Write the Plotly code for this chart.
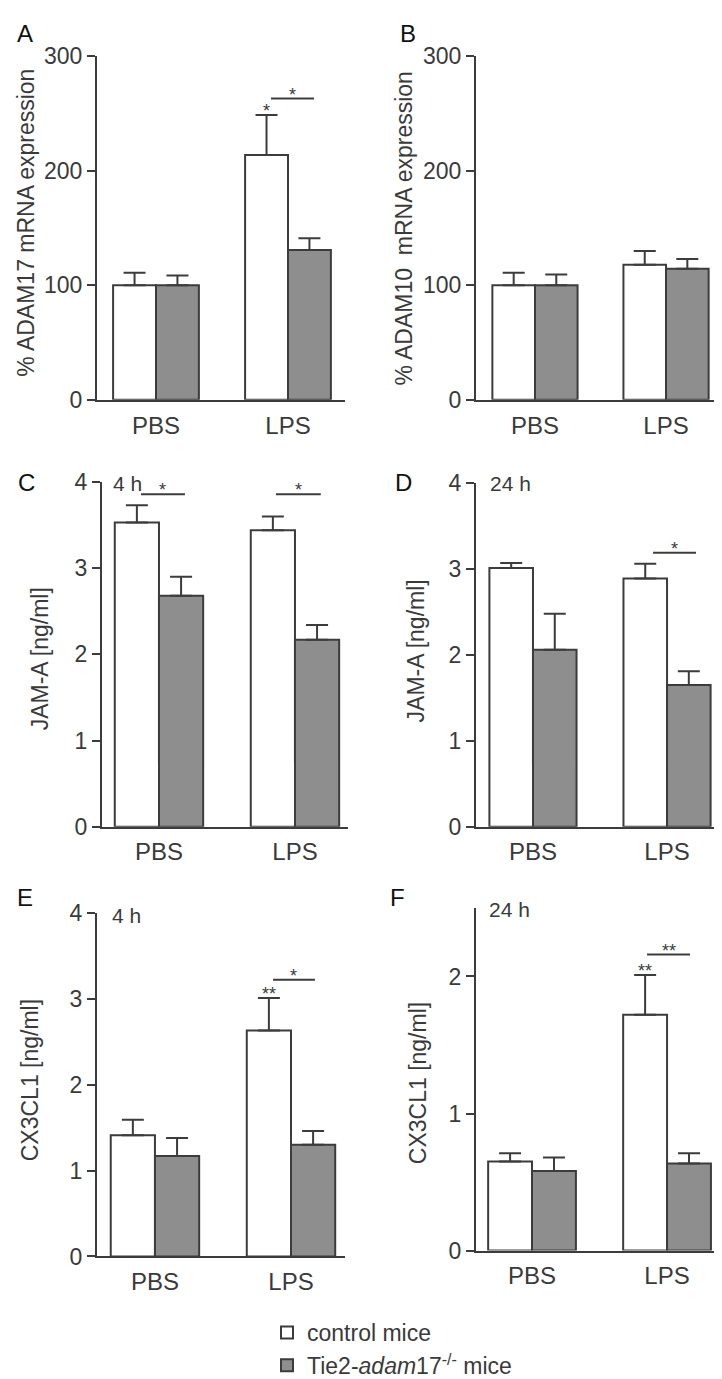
import plotly.graph_objects as go

# ---------------- data ----------------
categories = ["PBS", "LPS"]
series_names = ["control mice", "Tie2-<i>adam</i>17<sup>-/-</sup> mice"]

panel_letters = ["A", "B", "C", "D", "E", "F"]
y_titles = ["% ADAM17 mRNA expression", "% ADAM10  mRNA expression",
            "JAM-A [ng/ml]", "JAM-A [ng/ml]",
            "CX3CL1 [ng/ml]", "CX3CL1 [ng/ml]"]
time_labels = [None, None, "4 h", "24 h", "4 h", "24 h"]

# means and (upper) SEM per panel: [PBS, LPS]
ctrl_mean = [[100, 213.7], [100, 118], [3.53, 3.44], [3.01, 2.89], [1.41, 2.63], [0.65, 1.72]]
ctrl_sem = [[11, 35], [11, 12], [0.20, 0.16], [0.06, 0.17], [0.18, 0.38], [0.06, 0.29]]
tie2_mean = [[100, 130.8], [100, 114.5], [2.68, 2.17], [2.06, 1.65], [1.17, 1.30], [0.58, 0.635]]
tie2_sem = [[8.5, 10.2], [9.4, 8.5], [0.22, 0.17], [0.42, 0.16], [0.21, 0.16], [0.10, 0.075]]

y_max = [300, 300, 4, 4, 4, 2.5]
y_ticks = [[0, 100, 200, 300], [0, 100, 200, 300], [0, 1, 2, 3, 4],
           [0, 1, 2, 3, 4], [0, 1, 2, 3, 4], [0, 1, 2]]

# significance over control bar: (panel, category index, label)
sig_bar = [(0, 1, "*"), (4, 1, "**"), (5, 1, "**")]
# brackets: (panel, category index, start offset, end offset, y value, label)
brackets = [(0, 1, -0.129, 0.197, 263, "*"),
            (2, 0, -0.132, 0.191, 3.86, "*"),
            (2, 1, -0.140, 0.190, 3.86, "*"),
            (3, 1, -0.104, 0.216, 3.19, "*"),
            (4, 1, -0.132, 0.176, 3.22, "*"),
            (5, 1, -0.148, 0.170, 2.16, "**")]

# ---------------- layout geometry (pixels) ----------------
W, H = 722, 1379
# (x_left, x_right, y_top, y_bottom, xrange_left, xrange_right)
geom = [(89, 337, 36, 387, -0.447, 1.432),
        (468, 714, 36, 387, -0.450, 1.427),
        (94, 340, 471, 823, -0.419, 1.390),
        (468, 714, 472, 823, -0.425, 1.410),
        (89, 337, 911, 1262, -0.426, 1.397),
        (468, 714, 906, 1256, -0.415, 1.407)]
letter_pos = [(17, 13), (400, 13), (18, 471), (395, 471), (17, 895), (390, 895)]
ytitle_pos = [(18, 206), (396, 212), (32, 652), (408, 644), (22, 1082), (410, 1085)]
time_pos = [None, None, (103, 472), (480, 472), (102, 914), (479, 908)]

DARK = "#3c3c3c"
TEXT = "#3a3a3a"
GRAY = "#8e8e8e"
FONT = "Liberation Sans, Arial, sans-serif"

fig = go.Figure()
layout = dict(width=W, height=H, margin=dict(l=0, r=0, t=0, b=0),
              paper_bgcolor="white", plot_bgcolor="white",
              barmode="group", bargap=0.35, bargroupgap=0,
              font=dict(family=FONT, color=TEXT, size=22),
              showlegend=True)

annotations = []
shapes = []


def px2paper_x(px):
    return px / W


def px2paper_y(py):
    return 1 - py / H


for i in range(6):
    ax = "" if i == 0 else str(i + 1)
    xref, yref = "x" + ax, "y" + ax
    xl, xr, yt, yb, rl, rr = geom[i]
    fig.add_trace(go.Bar(
        x=categories, y=ctrl_mean[i], name=series_names[0],
        marker=dict(color="white", line=dict(color=DARK, width=2)),
        error_y=dict(type="data", symmetric=False, array=ctrl_sem[i],
                     arrayminus=[0, 0], color=DARK, thickness=2, width=11),
        xaxis=xref, yaxis=yref, showlegend=(i == 0), legendrank=1))
    fig.add_trace(go.Bar(
        x=categories, y=tie2_mean[i], name=series_names[1],
        marker=dict(color=GRAY, line=dict(color=DARK, width=2)),
        error_y=dict(type="data", symmetric=False, array=tie2_sem[i],
                     arrayminus=[0, 0], color=DARK, thickness=2, width=11),
        xaxis=xref, yaxis=yref, showlegend=(i == 0), legendrank=2))

    layout["xaxis" + ax] = dict(
        domain=[px2paper_x(xl), px2paper_x(xr)], range=[rl, rr],
        anchor=yref, showline=True, linecolor=DARK, linewidth=2,
        ticks="", showgrid=False, zeroline=False, fixedrange=True,
        tickfont=dict(size=24, color=TEXT), ticklabelstandoff=3)
    layout["yaxis" + ax] = dict(
        domain=[px2paper_y(yb), px2paper_y(yt)], range=[0, y_max[i]],
        anchor=xref, showline=True, linecolor=DARK, linewidth=2,
        ticks="outside", ticklen=8, tickwidth=2, tickcolor=DARK,
        tickvals=y_ticks[i], showgrid=False, zeroline=False, fixedrange=True,
        tickfont=dict(size=23, color=TEXT))

    # panel letter
    lx, ly = letter_pos[i]
    annotations.append(dict(text=panel_letters[i], x=px2paper_x(lx), y=px2paper_y(ly),
                            xref="paper", yref="paper", showarrow=False,
                            xanchor="center", yanchor="middle",
                            font=dict(size=24, color="#111111")))
    # y title
    tx, ty = ytitle_pos[i]
    annotations.append(dict(text=y_titles[i], x=px2paper_x(tx), y=px2paper_y(ty),
                            xref="paper", yref="paper", showarrow=False,
                            textangle=-90, xanchor="center", yanchor="middle",
                            font=dict(size=23, color=TEXT)))
    # time label
    if time_labels[i]:
        hx, hy = time_pos[i]
        annotations.append(dict(text=time_labels[i], x=px2paper_x(hx), y=px2paper_y(hy),
                                xref="paper", yref="paper", showarrow=False,
                                xanchor="left", yanchor="middle",
                                font=dict(size=21, color=TEXT)))

half = (1 - layout["bargap"]) / 4.0  # centre offset of each bar within a group

for (p, c, lab) in sig_bar:
    ax = "" if p == 0 else str(p + 1)
    annotations.append(dict(text=lab, x=c - half, y=ctrl_mean[p][c] + ctrl_sem[p][c],
                            xref="x" + ax, yref="y" + ax, showarrow=False,
                            xanchor="center", yanchor="middle", yshift=4,
                            font=dict(size=18, color=TEXT)))

for (p, c, o0, o1, yv, lab) in brackets:
    ax = "" if p == 0 else str(p + 1)
    shapes.append(dict(type="line", xref="x" + ax, yref="y" + ax,
                       x0=c + o0, x1=c + o1, y0=yv, y1=yv,
                       line=dict(color=DARK, width=2)))
    annotations.append(dict(text=lab, x=c + (o0 + o1) / 2, y=yv,
                            xref="x" + ax, yref="y" + ax, showarrow=False,
                            xanchor="center", yanchor="middle", yshift=4,
                            font=dict(size=18, color=TEXT)))

layout["annotations"] = annotations
layout["shapes"] = shapes
layout["legend"] = dict(x=px2paper_x(259), y=px2paper_y(1318), xanchor="left", yanchor="top",
                        font=dict(size=23, color=TEXT), bgcolor="rgba(0,0,0,0)",
                        traceorder="normal", itemclick=False, itemdoubleclick=False)

fig.update_layout(**layout)
fig.write_html("out.html")
